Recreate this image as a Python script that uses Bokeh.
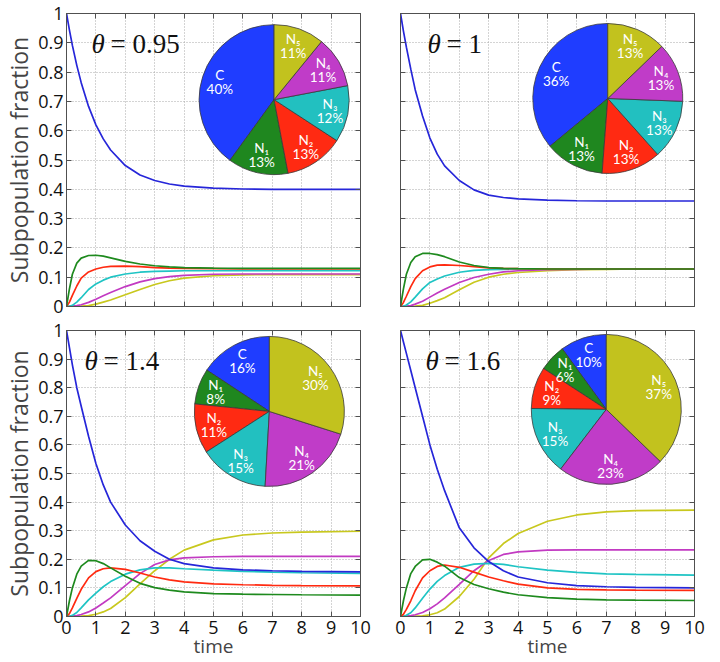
import math
from bokeh.plotting import figure
from bokeh.layouts import column, row
from bokeh.models import FixedTicker, NumeralTickFormatter, LinearAxis, Range1d, CustomJSTickFormatter
from bokeh.core.properties import value
from bokeh.embed import file_html
from bokeh.resources import INLINE

# ---------------- data ----------------
TIME = [0, 0.1, 0.2, 0.35, 0.5, 0.75, 1, 1.25, 1.5, 2, 2.5, 3, 3.5, 4, 5, 6, 7, 8, 10]
SERIES = ["C", "N\u2081", "N\u2082", "N\u2083", "N\u2084", "N\u2085"]
THETAS = ["0.95", "1", "1.4", "1.6"]

# theta = 0.95
C_095 = [1.0, 0.943, 0.891, 0.823, 0.764, 0.683, 0.62, 0.572, 0.534, 0.481, 0.449, 0.43, 0.418, 0.411, 0.404, 0.401, 0.40, 0.40, 0.40]
N1_095 = [0, 0.06, 0.11, 0.148, 0.165, 0.174, 0.175, 0.172, 0.166, 0.154, 0.145, 0.139, 0.135, 0.133, 0.131, 0.13, 0.13, 0.13, 0.13]
N2_095 = [0, 0.015, 0.038, 0.07, 0.097, 0.118, 0.128, 0.134, 0.137, 0.138, 0.136, 0.133, 0.131, 0.13, 0.129, 0.128, 0.128, 0.128, 0.128]
N3_095 = [0, 0.001, 0.004, 0.015, 0.03, 0.058, 0.077, 0.09, 0.1, 0.111, 0.117, 0.12, 0.121, 0.122, 0.122, 0.122, 0.122, 0.122, 0.122]
N4_095 = [0, 0, 0.001, 0.003, 0.006, 0.014, 0.025, 0.037, 0.048, 0.068, 0.084, 0.095, 0.102, 0.106, 0.11, 0.111, 0.111, 0.111, 0.111]
N5_095 = [0, 0, 0, 0, 0.001, 0.003, 0.008, 0.015, 0.022, 0.04, 0.058, 0.075, 0.088, 0.097, 0.105, 0.108, 0.109, 0.109, 0.109]

# theta = 1
C_1 = [1.0, 0.94, 0.885, 0.81, 0.74, 0.65, 0.575, 0.52, 0.48, 0.43, 0.398, 0.38, 0.372, 0.367, 0.363, 0.361, 0.36, 0.36, 0.36]
N1_1 = [0, 0.06, 0.11, 0.15, 0.17, 0.181, 0.181, 0.177, 0.17, 0.152, 0.14, 0.133, 0.13, 0.129, 0.128, 0.128, 0.128, 0.128, 0.128]
N2_1 = [0, 0.014, 0.035, 0.068, 0.095, 0.122, 0.135, 0.141, 0.142, 0.14, 0.136, 0.132, 0.13, 0.129, 0.128, 0.128, 0.128, 0.128, 0.128]
N3_1 = [0, 0.001, 0.005, 0.016, 0.032, 0.06, 0.082, 0.094, 0.104, 0.117, 0.123, 0.126, 0.127, 0.128, 0.128, 0.128, 0.128, 0.128, 0.128]
N4_1 = [0, 0, 0.001, 0.003, 0.008, 0.018, 0.032, 0.046, 0.059, 0.082, 0.099, 0.11, 0.118, 0.122, 0.126, 0.127, 0.128, 0.128, 0.128]
N5_1 = [0, 0, 0, 0, 0.001, 0.004, 0.011, 0.02, 0.03, 0.057, 0.083, 0.1, 0.11, 0.116, 0.122, 0.126, 0.127, 0.128, 0.128]

# theta = 1.4
C_14 = [1.0, 0.94, 0.88, 0.8, 0.735, 0.63, 0.535, 0.46, 0.4, 0.32, 0.265, 0.228, 0.2, 0.185, 0.17, 0.163, 0.16, 0.158, 0.156]
N1_14 = [0, 0.055, 0.1, 0.148, 0.176, 0.196, 0.195, 0.185, 0.17, 0.141, 0.116, 0.101, 0.092, 0.086, 0.08, 0.078, 0.077, 0.076, 0.075]
N2_14 = [0, 0.01, 0.03, 0.063, 0.095, 0.135, 0.157, 0.167, 0.17, 0.165, 0.152, 0.138, 0.128, 0.121, 0.114, 0.111, 0.109, 0.108, 0.107]
N3_14 = [0, 0.001, 0.004, 0.014, 0.03, 0.058, 0.082, 0.104, 0.122, 0.148, 0.163, 0.17, 0.17, 0.167, 0.162, 0.158, 0.155, 0.153, 0.151]
N4_14 = [0, 0, 0.001, 0.003, 0.007, 0.016, 0.03, 0.047, 0.065, 0.108, 0.15, 0.182, 0.198, 0.205, 0.209, 0.21, 0.21, 0.21, 0.21]
N5_14 = [0, 0, 0, 0, 0.001, 0.003, 0.008, 0.016, 0.028, 0.066, 0.114, 0.16, 0.2, 0.232, 0.268, 0.285, 0.292, 0.295, 0.298]

# theta = 1.6
C_16 = [1.0, 0.96, 0.92, 0.86, 0.8, 0.7, 0.6, 0.515, 0.44, 0.31, 0.24, 0.192, 0.16, 0.138, 0.118, 0.108, 0.104, 0.102, 0.1]
N1_16 = [0, 0.055, 0.1, 0.15, 0.175, 0.198, 0.2, 0.19, 0.176, 0.136, 0.112, 0.097, 0.085, 0.076, 0.066, 0.061, 0.058, 0.057, 0.056]
N2_16 = [0, 0.008, 0.025, 0.055, 0.09, 0.135, 0.16, 0.175, 0.18, 0.172, 0.155, 0.138, 0.125, 0.113, 0.1, 0.095, 0.093, 0.092, 0.091]
N3_16 = [0, 0.001, 0.004, 0.013, 0.03, 0.064, 0.096, 0.123, 0.143, 0.172, 0.183, 0.186, 0.182, 0.174, 0.162, 0.154, 0.149, 0.147, 0.145]
N4_16 = [0, 0, 0.001, 0.003, 0.006, 0.014, 0.027, 0.044, 0.065, 0.112, 0.16, 0.196, 0.217, 0.226, 0.232, 0.233, 0.233, 0.233, 0.233]
N5_16 = [0, 0, 0, 0, 0.001, 0.002, 0.006, 0.013, 0.026, 0.07, 0.13, 0.205, 0.255, 0.29, 0.333, 0.355, 0.366, 0.37, 0.372]

# steady-state shares shown in the pies (C, N1..N5)
PIE_095 = [0.40, 0.13, 0.128, 0.122, 0.111, 0.109]
PIE_1 = [0.36, 0.128, 0.128, 0.128, 0.128, 0.128]
PIE_14 = [0.157, 0.077, 0.107, 0.15, 0.21, 0.299]
PIE_16 = [0.10, 0.058, 0.09, 0.148, 0.232, 0.372]

X_TICKS = [0, 1, 2, 3, 4, 5, 6, 7, 8, 9, 10]
Y_TICKS = [0, 0.1, 0.2, 0.3, 0.4, 0.5, 0.6, 0.7, 0.8, 0.9, 1]

LINE_COLORS = ["#2626d9", "#1e8a1e", "#ff2a10", "#1fc4c4", "#c23ac2", "#c8c81e"]
PIE_COLORS = ["#1f3dff", "#1f871f", "#ff2a12", "#22c0c0", "#c03cc8", "#c2c21e"]

PANELS = [
    dict(theta=THETAS[0], curves=[C_095, N1_095, N2_095, N3_095, N4_095, N5_095], pie=PIE_095),
    dict(theta=THETAS[1], curves=[C_1, N1_1, N2_1, N3_1, N4_1, N5_1], pie=PIE_1),
    dict(theta=THETAS[2], curves=[C_14, N1_14, N2_14, N3_14, N4_14, N5_14], pie=PIE_14),
    dict(theta=THETAS[3], curves=[C_16, N1_16, N2_16, N3_16, N4_16, N5_16], pie=PIE_16),
]

FONT = "Open Sans"
TICK_FS = "18px"
BLANK = "return '';"


def make_panel(cfg, is_left, is_bottom, pie_center, theta_pos):
    p = figure(
        frame_width=294, frame_height=286 if is_bottom else 293,
        x_range=Range1d(0, 10), y_range=Range1d(0, 1),
        output_backend="svg", toolbar_location=None,
        min_border_left=60 if is_left else 20,
        min_border_right=20 if is_left else 14,
        min_border_top=12 if is_bottom else 13,
        min_border_bottom=38 if is_bottom else 12,
        background_fill_color="white", border_fill_color="white",
    )
    p.outline_line_color = "#505050"
    p.outline_line_width = 1

    xt = FixedTicker(ticks=X_TICKS, minor_ticks=[])
    yt = FixedTicker(ticks=Y_TICKS, minor_ticks=[])
    bottom_ax = p.below[0]
    left_ax = p.left[0]
    bottom_ax.ticker = xt
    left_ax.ticker = yt
    left_ax.formatter = NumeralTickFormatter(format="0.[0]")
    top_ax = LinearAxis(ticker=xt)
    right_ax = LinearAxis(ticker=yt)
    p.add_layout(top_ax, "above")
    p.add_layout(right_ax, "right")

    for ax, show in [(bottom_ax, is_bottom), (left_ax, is_left), (top_ax, False), (right_ax, False)]:
        ax.major_tick_in = 5
        ax.major_tick_out = 0
        ax.minor_tick_in = 0
        ax.minor_tick_out = 0
        ax.axis_line_color = "#505050"
        ax.major_tick_line_color = "#505050"
        ax.major_label_text_font = FONT
        ax.major_label_text_color = "#111111"
        ax.major_label_text_font_size = TICK_FS
        if show:
            ax.major_label_standoff = 3 if ax is left_ax else 4
        else:
            ax.formatter = CustomJSTickFormatter(code=BLANK)
            ax.major_label_standoff = 0

    if is_left:
        left_ax.axis_label = "Subpopulation fraction"
        left_ax.axis_label_text_font = FONT
        left_ax.axis_label_text_font_size = "23px"
        left_ax.axis_label_text_font_style = "normal"
        left_ax.axis_label_standoff = 0
    if is_bottom:
        bottom_ax.axis_label = "time"
        bottom_ax.axis_label_text_font = FONT
        bottom_ax.axis_label_text_font_size = "19px"
        bottom_ax.axis_label_text_font_style = "normal"
        bottom_ax.axis_label_standoff = -4

    p.grid.grid_line_color = "#a8a8a8"
    p.grid.grid_line_dash = "1 2"
    p.grid.grid_line_width = 1

    # curves (yellow first so blue stays on top)
    for i in [5, 4, 3, 2, 1, 0]:
        p.line(TIME, cfg["curves"][i], line_color=LINE_COLORS[i], line_width=1.7)

    # theta annotation
    tx, ty = theta_pos
    p.text(x=[tx], y=[ty], text=["\u03b8"], text_font=value("Liberation Serif"),
           text_font_style="italic", text_font_size="27px", text_align="left",
           text_baseline="middle", text_color="#111111")
    p.text(x=[tx], y=[ty], text=["= " + cfg["theta"]], text_font=value("Liberation Serif"),
           text_font_size="27px", text_align="left", text_baseline="middle",
           text_color="#111111", x_offset=19)

    # pie inset
    cx, cy = pie_center
    R = 75
    vals = cfg["pie"]
    tot = sum(vals)
    starts, ends, mids = [], [], []
    a = math.pi / 2
    for v in vals:
        da = 2 * math.pi * v / tot
        starts.append(a)
        ends.append(a + da)
        mids.append(a + da / 2)
        a += da
    p.wedge(x=[cx] * 6, y=[cy] * 6, radius=R, radius_units="screen",
            start_angle=starts, end_angle=ends, direction="anticlock",
            fill_color=PIE_COLORS, line_color="#3a3a3a", line_width=0.8)
    rl = 0.76 * R
    xo = [rl * math.cos(m) for m in mids]
    yo = [-rl * math.sin(m) for m in mids]
    pct = ["%d%%" % round(100 * v / tot) for v in vals]
    p.text(x=[cx] * 6, y=[cy] * 6, text=SERIES, x_offset=xo, y_offset=[y - 7 for y in yo],
           text_font=value("Lato"), text_font_size="13.5px", text_color="white",
           text_align="center", text_baseline="middle")
    p.text(x=[cx] * 6, y=[cy] * 6, text=pct, x_offset=xo, y_offset=[y + 7 for y in yo],
           text_font=value("Lato"), text_font_size="13.5px", text_color="white",
           text_align="center", text_baseline="middle")
    return p


p1 = make_panel(PANELS[0], True, False, (7.06, 0.706), (0.85, 0.895))
p2 = make_panel(PANELS[1], False, False, (7.05, 0.71), (0.92, 0.895))
p3 = make_panel(PANELS[2], True, True, (6.9, 0.717), (0.61, 0.895))
p4 = make_panel(PANELS[3], False, True, (7.0, 0.724), (0.85, 0.895))

layout = column(row(p1, p2, spacing=0), row(p3, p4, spacing=0), spacing=0)
open("out.html", "w").write(file_html(layout, INLINE))
